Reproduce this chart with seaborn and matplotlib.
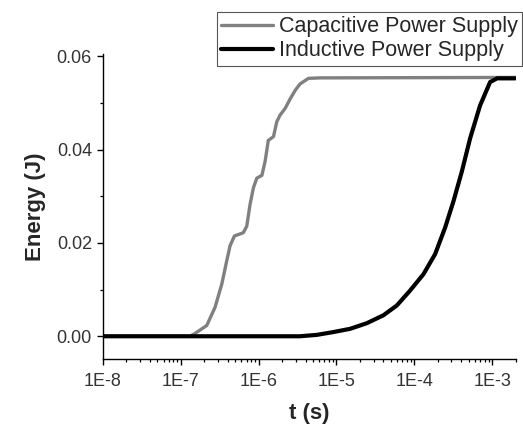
import numpy as np
import pandas as pd
import matplotlib
matplotlib.use("Agg")
import matplotlib.pyplot as plt
import matplotlib.ticker as mticker
import seaborn as sns

# ---- data ----
cap_t = [1e-8, 1.31e-7, 1.52e-7, 2.15e-7, 2.75e-7, 3.36e-7, 3.89e-7, 4.29e-7, 4.88e-7,
         6.35e-7, 7.03e-7, 7.74e-7, 8.55e-7, 9.46e-7, 1.10e-6, 1.21e-6, 1.33e-6,
         1.55e-6, 1.71e-6, 1.88e-6, 2.18e-6, 2.54e-6, 2.94e-6, 3.40e-6, 4.36e-6,
         6.15e-6, 2.04e-3]
cap_E = [0.0, 0.0, 0.0006, 0.0023, 0.0062, 0.0112, 0.0162, 0.0194, 0.0215,
         0.0222, 0.0236, 0.0282, 0.0318, 0.0339, 0.0345, 0.0375, 0.0420,
         0.0428, 0.0460, 0.0474, 0.0488, 0.0509, 0.0527, 0.0541, 0.0553,
         0.0554, 0.0555]

ind_t = [1e-8, 3.40e-6, 5.6e-6, 9.12e-6, 1.50e-5, 2.45e-5, 4.01e-5, 5.96e-5, 8.83e-5,
         1.31e-4, 1.85e-4, 2.49e-4, 3.18e-4, 4.08e-4, 5.21e-4, 7.01e-4, 9.42e-4,
         1.16e-3, 1.98e-3]
ind_E = [0.0, 0.0, 0.0003, 0.0009, 0.0016, 0.0028, 0.0045, 0.0066, 0.0098,
         0.0133, 0.0176, 0.0233, 0.0289, 0.0353, 0.0424, 0.0495, 0.0545,
         0.0553, 0.0553]

series_names = ["Capacitive Power Supply", "Inductive Power Supply"]
x_ticks = [1e-8, 1e-7, 1e-6, 1e-5, 1e-4, 1e-3]
x_tick_labels = ["1E-8", "1E-7", "1E-6", "1E-5", "1E-4", "1E-3"]
y_ticks = [0.00, 0.02, 0.04, 0.06]
y_tick_labels = ["0.00", "0.02", "0.04", "0.06"]

df = pd.concat([
    pd.DataFrame({"t": cap_t, "E": cap_E, "series": series_names[0]}),
    pd.DataFrame({"t": ind_t, "E": ind_E, "series": series_names[1]}),
])

sns.set_style("ticks")
plt.rcParams["font.family"] = ["Liberation Sans", "DejaVu Sans"]

fig = plt.figure(figsize=(5.23, 4.26), dpi=100)
ax = fig.add_axes([0.197, 0.157, 0.790, 0.716])

sns.lineplot(data=df[df.series == series_names[0]], x="t", y="E", color="#808080",
             linewidth=2.4, ax=ax, label=series_names[0], estimator=None, sort=False)
sns.lineplot(data=df[df.series == series_names[1]], x="t", y="E", color="#000000",
             linewidth=3.0, ax=ax, label=series_names[1], estimator=None, sort=False)
for ln in ax.get_lines():
    ln.set_solid_joinstyle("round")

ax.set_xscale("log")
ax.set_xlim(1e-8, 2.04e-3)
ax.set_ylim(-0.0049, 0.0605)

ax.set_xticks(x_ticks)
ax.set_xticklabels(x_tick_labels)
ax.xaxis.set_minor_locator(mticker.LogLocator(base=10, subs=np.arange(2, 10), numticks=20))
ax.xaxis.set_minor_formatter(mticker.NullFormatter())
ax.set_yticks(y_ticks)
ax.set_yticklabels(y_tick_labels)
ax.yaxis.set_minor_locator(mticker.FixedLocator([0.01, 0.03, 0.05]))

ax.tick_params(axis="both", which="major", direction="out", length=4, width=1,
               labelsize=13, labelcolor="#333333", color="black")
ax.tick_params(axis="x", which="major", pad=6)
ax.tick_params(axis="y", which="major", pad=4)
ax.tick_params(axis="both", which="minor", direction="out", length=2.5, width=0.9, color="black")

for s in ["top", "right"]:
    ax.spines[s].set_visible(False)
for s in ["left", "bottom"]:
    ax.spines[s].set_color("black")
    ax.spines[s].set_linewidth(1.0)

ax.set_xlabel("t (s)", fontsize=16, fontweight="bold", labelpad=9)
ax.set_ylabel("Energy (J)", fontsize=16, fontweight="bold", labelpad=8)

leg = ax.legend(loc="upper right", bbox_to_anchor=(0.999, 0.972),
                bbox_transform=fig.transFigure, fontsize=15.5, frameon=True,
                fancybox=False, edgecolor="#555555", framealpha=1,
                handlelength=2.4, handletextpad=0.3, labelspacing=0.15,
                borderpad=0.2, borderaxespad=0)
leg.get_frame().set_linewidth(0.8)

fig.savefig("out.png", dpi=100)
